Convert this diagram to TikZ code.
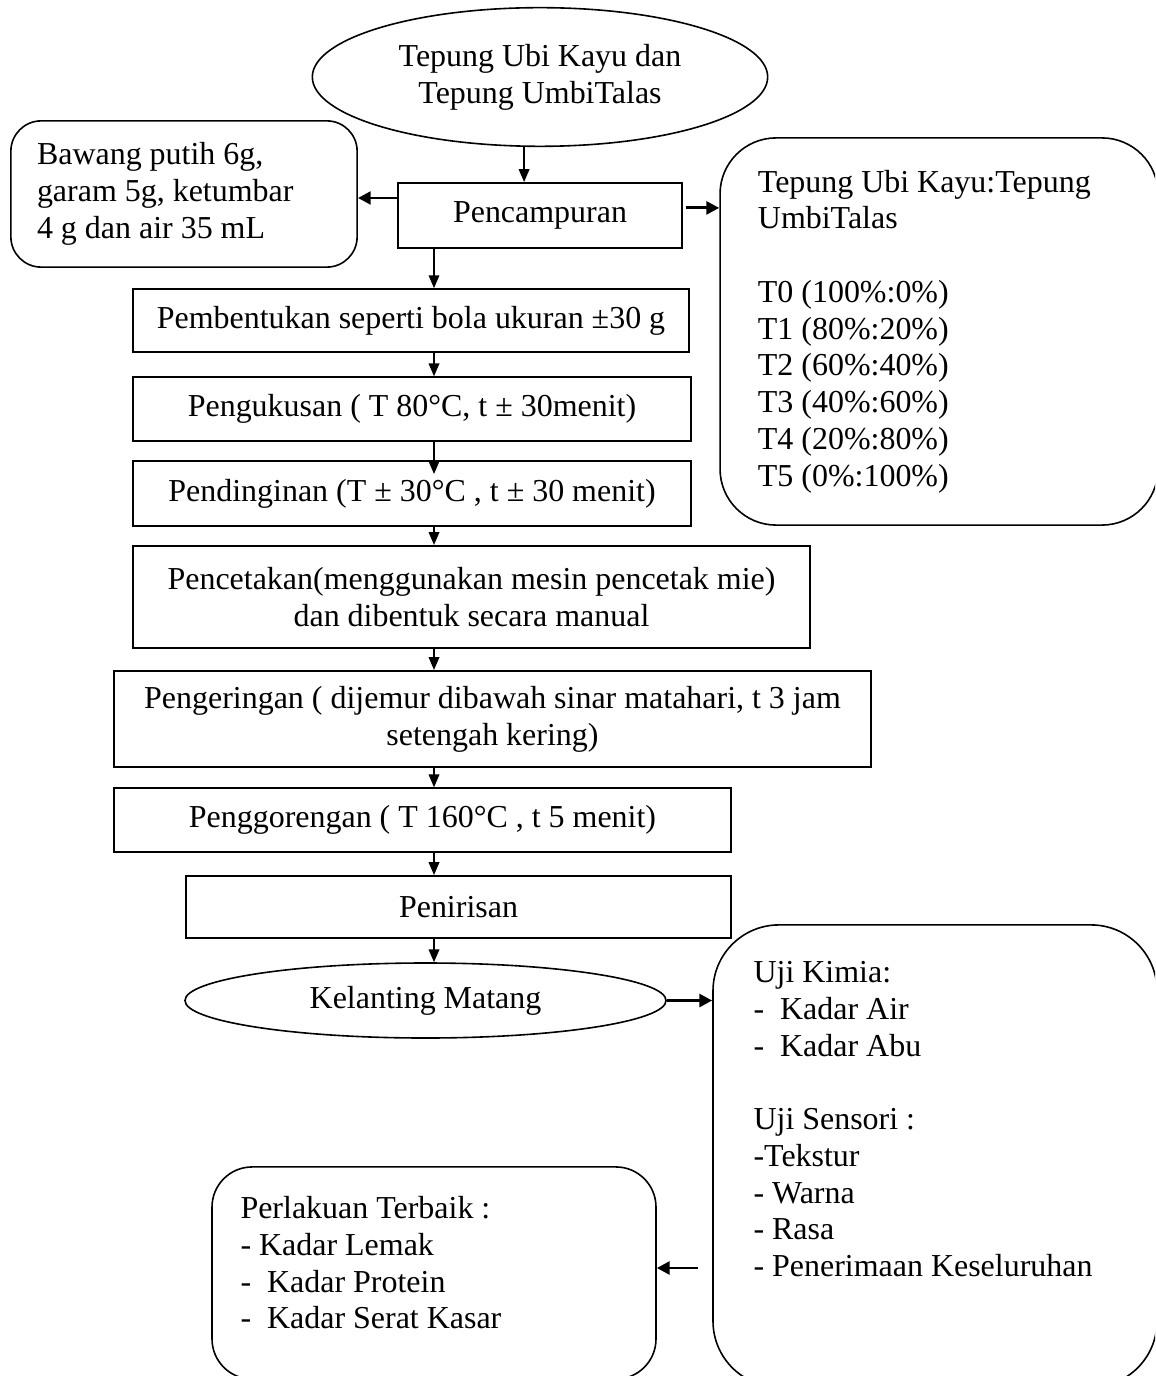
\documentclass[tikz,border=0pt]{standalone}
\usepackage{fontspec}
\setmainfont{Liberation Serif}
\usepackage{tikz}
\usetikzlibrary{arrows.meta,positioning,shapes.geometric}

\begin{document}
\begin{tikzpicture}[
  x=0.0132cm, y=-0.0132cm,
  font=\fontsize{12pt}{13.8pt}\selectfont,
  proc/.style={rectangle, draw=black, line width=0.7pt, align=center, inner sep=0pt},
  start/.style={ellipse, draw=black, line width=0.6pt, align=center, inner sep=1pt},
  note/.style={rectangle, draw=black, line width=0.6pt, align=flush left},
  plain/.style={anchor=north west, inner sep=0pt, align=flush left},
  arrow/.style={-{Triangle[length=4.8pt,width=4pt]}, line width=0.5pt},
  sidearrow/.style={-{Triangle[length=4.8pt,width=4.8pt]}, line width=1.1pt}
]
\useasboundingbox (0,0) rectangle (1155,1376);
\clip (0,0) rectangle (1155,1376);

\node[start, minimum width=6.01cm, minimum height=1.83cm] (bahan) at (540,77) {Tepung Ubi Kayu dan\\Tepung UmbiTalas};
\node[note, rounded corners=0.40cm, minimum width=4.57cm, minimum height=1.93cm, text width=3.88cm, inner xsep=0.34cm] (bumbu) at (184,194) {Bawang putih 6g,\\garam 5g, ketumbar\\4 g dan air 35 mL};
\node[proc, minimum width=3.75cm, minimum height=0.86cm] (campur) at (540,215.5) {Pencampuran};
\node[note, rounded corners=0.74cm, minimum width=5.78cm, minimum height=5.11cm, text width=4.78cm, inner xsep=0.50cm] (rasio) at (939,331.5) {Tepung Ubi Kayu:Tepung\\UmbiTalas\\[13.8pt]T0 (100\%:0\%)\\T1 (80\%:20\%)\\T2 (60\%:40\%)\\T3 (40\%:60\%)\\T4 (20\%:80\%)\\T5 (0\%:100\%)};
\node[proc, minimum width=7.34cm, minimum height=0.83cm] (bentuk) at (411,320.5) {Pembentukan seperti bola ukuran ±30 g};
\node[proc, minimum width=7.37cm, minimum height=0.84cm] (kukus) at (412,409) {Pengukusan ( T 80°C, t ± 30menit)};
\node[proc, minimum width=7.37cm, minimum height=0.86cm] (dingin) at (412,493.5) {Pendinginan (T ± 30°C , t ± 30 menit)};
\node[proc, minimum width=8.94cm, minimum height=1.35cm] (cetak) at (471.5,597) {Pencetakan(menggunakan mesin pencetak mie)\\dan dibentuk secara manual};
\node[proc, minimum width=9.99cm, minimum height=1.27cm] (kering) at (492.5,719) {Pengeringan ( dijemur dibawah sinar matahari, t 3 jam\\setengah kering)};
\node[proc, minimum width=8.14cm, minimum height=0.84cm] (goreng) at (422.5,820) {Penggorengan ( T 160°C , t 5 menit)};
\node[proc, minimum width=7.19cm, minimum height=0.82cm] (tiris) at (458.5,907) {Penirisan};
\node[start, minimum width=6.35cm, minimum height=0.99cm] (matang) at (425.5,1000.5) {Kelanting Matang};
\node[note, rounded corners=0.87cm, minimum width=5.86cm, minimum height=6.10cm] (uji) at (935,1156) {};
\node[plain] (ujiText) at (753,961) {Uji Kimia:\\-~ Kadar Air\\-~ Kadar Abu\\[13.8pt]Uji Sensori :\\-Tekstur\\- Warna\\- Rasa\\- Penerimaan Keseluruhan};
\node[note, rounded corners=0.53cm, minimum width=5.86cm, minimum height=2.80cm] (terbaik) at (434,1273) {};
\node[plain] (terbaikText) at (240,1196) {Perlakuan Terbaik :\\- Kadar Lemak\\-~ Kadar Protein\\-~ Kadar Serat Kasar};

\coordinate (spine) at (434,0);
\draw[arrow] ([xshift=-0.21cm]bahan.south) -- ([xshift=-0.21cm]bahan.south |- campur.north);
\draw[arrow] (campur.south -| spine) -- (bentuk.north -| spine);
\draw[arrow] (bentuk.south -| spine) -- (kukus.north -| spine);
\draw[arrow, shorten >=-0.185cm] (kukus.south -| spine) -- (dingin.north -| spine);
\draw[arrow] (dingin.south -| spine) -- (cetak.north -| spine);
\draw[arrow] (cetak.south -| spine) -- (kering.north -| spine);
\draw[arrow] (kering.south -| spine) -- (goreng.north -| spine);
\draw[arrow] (goreng.south -| spine) -- (tiris.north -| spine);
\draw[arrow] (tiris.south -| spine) -- (matang.north -| spine);
\draw[sidearrow] ([yshift=0.231cm]campur.west) -- ([yshift=0.231cm]campur.west -| bumbu.east);
\draw[sidearrow, shorten <=1pt] ([yshift=0.1cm]campur.east) -- ([yshift=0.1cm]campur.east -| rasio.west);
\draw[sidearrow] (matang.east) -- (matang.east -| uji.west);
\draw[sidearrow, shorten <=0.185cm] ([yshift=0.066cm]terbaik.east -| uji.west) -- ([yshift=0.066cm]terbaik.east);
\end{tikzpicture}
\end{document}
